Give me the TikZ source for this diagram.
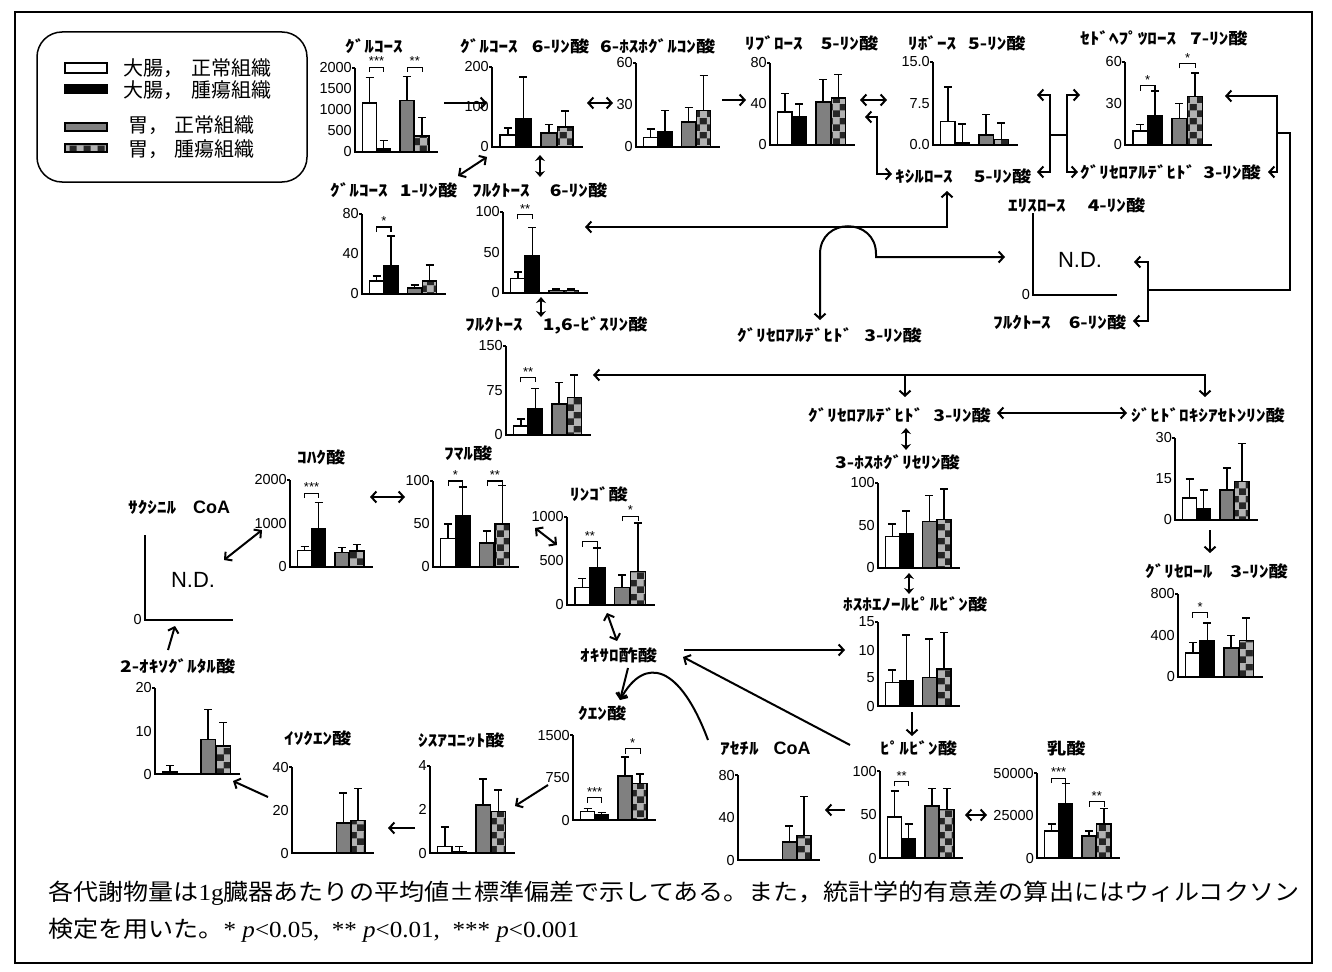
\documentclass[tikz,border=0pt]{standalone}
\usepackage{fontspec}
\setmainfont{Liberation Sans}
\newfontfamily\jpl[FakeStretch=1.2]{Noto Sans CJK JP}
\newfontfamily\jpr{Noto Sans CJK JP}
\newfontfamily\jpc[FakeStretch=1.09]{Noto Sans CJK JP}
\newfontfamily\lsans{Liberation Sans}
\newfontfamily\lserif[FakeStretch=1.09]{Liberation Serif}
\usetikzlibrary{arrows.meta,patterns}

\pgfdeclarepatterninherentlycolored{chk}
{\pgfpointorigin}{\pgfqpoint{14pt}{14pt}}
{\pgfqpoint{14pt}{14pt}}
{%
  \pgfsetfillcolor{black!85}%
  \pgfpathrectangle{\pgfpointorigin}{\pgfqpoint{14pt}{14pt}}%
  \pgfusepath{fill}%
  \pgfsetfillcolor{gray!60}%
  \pgfpathrectangle{\pgfpointorigin}{\pgfqpoint{7pt}{7pt}}%
  \pgfpathrectangle{\pgfqpoint{7pt}{7pt}}{\pgfqpoint{7pt}{7pt}}%
  \pgfusepath{fill}%
}

\newcommand\gp[1]{\hspace{#1pt}}
\newcommand\coa{{\lsans\bfseries\fontsize{18}{18}\selectfont CoA}}

\tikzset{
  axis/.style={line width=1.6pt},
  barline/.style={line width=1.4pt},
  err/.style={line width=1.4pt},
  sigl/.style={line width=1.1pt},
  tick/.style={font=\lsans\fontsize{14.5}{15}\selectfont, inner sep=1pt},
  stars/.style={font=\lsans\fontsize{13}{13}\selectfont, inner sep=0pt, anchor=south},
  ttl/.style={font=\jpl\bfseries\fontsize{16}{18}\selectfont, inner sep=0pt, anchor=west},
  legt/.style={font=\jpr\fontsize{20}{22}\selectfont, inner sep=0pt, anchor=west},
  nd/.style={font=\lsans\fontsize{22}{22}\selectfont, inner sep=0pt},
  conn/.style={line width=2pt},
  dbl/.style={line width=2.4pt, {Stealth[length=6pt,width=10pt]}-{Stealth[length=6pt,width=10pt]}},
  capt/.style={font=\jpc\fontsize{23}{26}\selectfont, inner sep=0pt, anchor=west}
}

% bar chart: x0, base, H, L, ymax, list v/e
\newcommand\bc[6]{%
\begin{scope}[shift={(#1,#2)}]
\pgfmathsetmacro\bcscl{#3/#5}%
\pgfmathsetmacro\bcbw{0.17*#4}%
\foreach \bvv/\bee [count=\bci] in {#6}{%
  \pgfmathsetmacro\bcxs{#4*{0.09,0.26,0.54,0.72}[\bci-1]}%
  \pgfmathsetmacro\bcxe{\bcxs+\bcbw}%
  \pgfmathsetmacro\bcxc{\bcxs+\bcbw/2}%
  \pgfmathsetmacro\bchv{\bvv*\bcscl}%
  \pgfmathsetmacro\bche{(\bvv+\bee)*\bcscl}%
  \ifcase\bci\or\def\bcfc{white}\or\def\bcfc{black}\or\def\bcfc{black!50}\or\def\bcfc{white}\fi
  \ifnum\bci=4
    \draw[barline,pattern=chk] (\bcxs,0) rectangle (\bcxe,-\bchv);
  \else
    \draw[barline,fill=\bcfc] (\bcxs,0) rectangle (\bcxe,-\bchv);
  \fi
  \ifdim\bee pt>0pt
    \draw[err] (\bcxc,-\bchv) -- (\bcxc,-\bche) ({\bcxc-4},-\bche) -- ({\bcxc+4},-\bche);
  \fi
}
\draw[axis] (0,-#3) -- (0,0) -- (#4,0);
\draw[axis] (-3,-#3) -- (0,-#3);
\end{scope}}

% ticks: x0, base, H, ymax, list val/label
\newcommand\tk[5]{%
\foreach \tkv/\tkl in {#5}{\node[tick,anchor=east] at ({#1-2},{#2-\tkv/#4*#3}) {\tkl};}}

% significance: x0, base, H, L, ymax, group, value, stars
\newcommand\sig[8]{%
\pgfmathsetmacro\sgA{#1+#4*(#6==1?0.175:0.63)}%
\pgfmathsetmacro\sgB{#1+#4*(#6==1?0.345:0.81)}%
\pgfmathsetmacro\sgY{#2-#7/#5*#3}%
\pgfmathsetmacro\sgM{(\sgA+\sgB)/2}%
\draw[sigl] (\sgA,{\sgY+5}) -- (\sgA,\sgY) -- (\sgB,\sgY) -- (\sgB,{\sgY+5});
\node[stars] at (\sgM,{\sgY-1}) {#8};}

\begin{document}
\begin{tikzpicture}[x=1pt,y=-1pt,>={Straight Barb[length=5pt,width=11pt]}]
\useasboundingbox (0,0) rectangle (1332,971);
\fill[white] (0,0) rectangle (1332,971);
\draw[line width=1.5pt] (15,12) rectangle (1312,963);

% ---------- legend ----------
\draw[line width=1.5pt, rounded corners=25pt] (37,32) rectangle (307,182);
\draw[barline, fill=white] (65,63) rectangle (107,73);
\draw[barline, fill=black] (65,85) rectangle (107,93);
\draw[barline, fill=black!50] (65,123) rectangle (107,131);
\draw[barline, pattern=chk] (65,144) rectangle (107,152);
\node[legt] (lg1) at (123,68) {大腸，\hspace{8pt}正常組織};
\node[legt] (lg2) at (123,90) {大腸，\hspace{8pt}腫瘍組織};
\node[legt] (lg3) at (128,125) {胃，\hspace{6pt}正常組織};
\node[legt] (lg4) at (128,149) {胃，\hspace{6pt}腫瘍組織};

% ---------- charts ----------
% glucose
\node[ttl] (tGlc) at (345,46) {ｸﾞﾙｺｰｽ};
\bc{355}{152}{84}{83}{2000}{1170/600,80/190,1230/570,380/440}
\tk{355}{152}{84}{2000}{0/0,500/500,1000/1000,1500/1500,2000/2000}
\sig{355}{152}{84}{83}{2000}{1}{2020}{***}
\sig{355}{152}{84}{83}{2000}{2}{2020}{**}
% G6P
\node[ttl] (tG6P) at (460,46) {ｸﾞﾙｺｰｽ\gp{14}6-ﾘﾝ酸};
\bc{492}{147}{80}{91}{200}{30/18,70/105,35/22,50/40}
\tk{492}{147}{80}{200}{0/0,100/100,200/200}
% 6PG
\node[ttl] (t6PG) at (600,46) {6-ﾎｽﾎｸﾞﾙｺﾝ酸};
\bc{636}{147}{84}{84}{60}{7/6,11/15,18/10,26/25}
\tk{636}{147}{84}{60}{0/0,30/30,60/60}
% Ru5P
\node[ttl] (tRu5P) at (745,43) {ﾘﾌﾞﾛｰｽ\gp{18}5-ﾘﾝ酸};
\bc{770}{145}{82}{85}{80}{32/18,28/12,42/22,46/23}
\tk{770}{145}{82}{80}{0/0,40/40,80/80}
% R5P
\node[ttl] (tR5P) at (908,43) {ﾘﾎﾞｰｽ\gp{12}5-ﾘﾝ酸};
\bc{933}{145}{83}{85}{15}{4.3/6.2,0.5/3.3,1.8/3.7,1.0/3.0}
\tk{933}{145}{83}{15}{0/0.0,7.5/7.5,15/15.0}
% S7P
\node[ttl] (tS7P) at (1080,38) {ｾﾄﾞﾍﾌﾟﾂﾛｰｽ\gp{14}7-ﾘﾝ酸};
\bc{1125}{145}{83}{87}{60}{10/5,21/18,19/11,35/17}
\tk{1125}{145}{83}{60}{0/0,30/30,60/60}
\sig{1125}{145}{83}{87}{60}{1}{43}{*}
\sig{1125}{145}{83}{87}{60}{2}{59}{*}
% G1P
\node[ttl] (tG1P) at (330,190) {ｸﾞﾙｺｰｽ\gp{12}1-ﾘﾝ酸};
\bc{362}{294}{80}{84}{80}{13/5,28/30,6/3,13/16}
\tk{362}{294}{80}{80}{0/0,40/40,80/80}
\sig{362}{294}{80}{84}{80}{1}{67}{*}
% F6P
\node[ttl] (tF6P) at (472,190) {ﾌﾙｸﾄｰｽ\gp{20}6-ﾘﾝ酸};
\bc{503}{293}{81}{85}{100}{18/8,46/35,3/2,3/2}
\tk{503}{293}{81}{100}{0/0,50/50,100/100}
\sig{503}{293}{81}{85}{100}{1}{97}{**}
% F1,6BP
\node[ttl] (tFBP) at (465,325) {ﾌﾙｸﾄｰｽ\gp{20}1,6-ﾋﾞｽﾘﾝ酸};
\bc{506}{435}{89}{85}{150}{15/12,45/33,52/36,63/38}
\tk{506}{435}{89}{150}{0/0,75/75,150/150}
\sig{506}{435}{89}{85}{150}{1}{97}{**}
% pentose labels
\node[ttl] (tXu5P) at (895,176) {ｷｼﾙﾛｰｽ\gp{21}5-ﾘﾝ酸};
\node[ttl] (tGAPr) at (1080,172) {ｸﾞﾘｾﾛｱﾙﾃﾞﾋﾄﾞ\gp{8}3-ﾘﾝ酸};
\node[ttl] (tE4P) at (1008,205) {ｴﾘｽﾛｰｽ\gp{22}4-ﾘﾝ酸};
\node[ttl] (tF6Pr) at (993,322) {ﾌﾙｸﾄｰｽ\gp{18}6-ﾘﾝ酸};
\node[ttl] (tGAPm) at (737,335) {ｸﾞﾘｾﾛｱﾙﾃﾞﾋﾄﾞ\gp{12}3-ﾘﾝ酸};
% E4P empty chart
\draw[axis] (1033,213) -- (1033,295) -- (1117,295);
\node[tick,anchor=east] (zE4P) at (1031,295) {0};
\node[nd] (ndE4P) at (1080,260) {N.D.};
% GA3P / DHAP / G3P
\node[ttl] (tGAP) at (808,415) {ｸﾞﾘｾﾛｱﾙﾃﾞﾋﾄﾞ\gp{10}3-ﾘﾝ酸};
\node[ttl] (tDHAP) at (1131,415) {ｼﾞﾋﾄﾞﾛｷｼｱｾﾄﾝﾘﾝ酸};
\bc{1175}{520}{82}{83}{30}{8/7,4/7,11/8,14/14}
\tk{1175}{520}{82}{30}{0/0,15/15,30/30}
\node[ttl] (tG3P) at (1145,571) {ｸﾞﾘｾﾛｰﾙ\gp{18}3-ﾘﾝ酸};
\bc{1178}{677}{83}{85}{800}{230/100,350/170,280/120,350/220}
\tk{1178}{677}{83}{800}{0/0,400/400,800/800}
\sig{1178}{677}{83}{85}{800}{1}{620}{*}
% 3PG
\node[ttl] (t3PG) at (835,462) {3-ﾎｽﾎｸﾞﾘｾﾘﾝ酸};
\bc{878}{568}{85}{82}{100}{37/15,40/27,55/30,57/36}
\tk{878}{568}{85}{100}{0/0,50/50,100/100}
% PEP
\node[ttl] (tPEP) at (843,604) {ﾎｽﾎｴﾉｰﾙﾋﾟﾙﾋﾞﾝ酸};
\bc{878}{706}{84}{82}{15}{4.2/2.2,4.5/8.2,5.1/6.9,6.6/6.5}
\tk{878}{706}{84}{15}{0/0,5/5,10/10,15/15}
% pyruvate
\node[ttl] (tPyr) at (880,748) {ﾋﾟﾙﾋﾞﾝ酸};
\bc{880}{858}{87}{83}{100}{47/30,22/17,60/20,56/24}
\tk{880}{858}{87}{100}{0/0,50/50,100/100}
\sig{880}{858}{87}{83}{100}{1}{88}{**}
% lactate (values in thousands)
\node[ttl] (tLac) at (1047,748) {乳酸};
\bc{1037}{858}{85}{83}{50}{16/4,32/12,13/3,20/9}
\tk{1037}{858}{85}{50}{0/0,25/25000,50/50000}
\sig{1037}{858}{85}{83}{50}{1}{47}{***}
\sig{1037}{858}{85}{83}{50}{2}{33}{**}
% acetyl CoA
\node[ttl] (tAcCoA) at (720,749) {ｱｾﾁﾙ\gp{15}\coa};
\bc{738}{860}{85}{82}{80}{0.5/0,0.5/0,17/15,23/37}
\tk{738}{860}{85}{80}{0/0,40/40,80/80}
% citrate
\node[ttl] (tCit) at (578,713) {ｸｴﾝ酸};
\bc{573}{820}{85}{83}{1500}{150/50,100/30,780/330,640/170}
\tk{573}{820}{85}{1500}{0/0,750/750,1500/1500}
\sig{573}{820}{85}{83}{1500}{1}{390}{***}
\sig{573}{820}{85}{83}{1500}{2}{1260}{*}
% oxaloacetate
\node[ttl] (tOAA) at (580,655) {ｵｷｻﾛ酢酸};
% malate
\node[ttl] (tMal) at (570,494) {ﾘﾝｺﾞ酸};
\bc{567}{605}{88}{88}{1000}{200/100,420/230,200/140,380/550}
\tk{567}{605}{88}{1000}{0/0,500/500,1000/1000}
\sig{567}{605}{88}{88}{1000}{1}{720}{**}
\sig{567}{605}{88}{88}{1000}{2}{1010}{*}
% fumarate
\node[ttl] (tFum) at (444,453) {ﾌﾏﾙ酸};
\bc{433}{567}{86}{86}{100}{33/17,60/33,28/14,50/45}
\tk{433}{567}{86}{100}{0/0,50/50,100/100}
\sig{433}{567}{86}{86}{100}{1}{100}{*}
\sig{433}{567}{86}{86}{100}{2}{100}{**}
% succinate
\node[ttl] (tSuc) at (297,457) {ｺﾊｸ酸};
\bc{290}{567}{87}{83}{2000}{380/90,880/600,330/120,370/150}
\tk{290}{567}{87}{2000}{0/0,1000/1000,2000/2000}
\sig{290}{567}{87}{83}{2000}{1}{1700}{***}
% succinyl CoA
\node[ttl] (tSucCoA) at (128,507) {ｻｸｼﾆﾙ\gp{17}\coa};
\draw[axis] (145,535) -- (145,620) -- (233,620);
\node[tick,anchor=east] (zSucCoA) at (143,620) {0};
\node[nd] (ndSucCoA) at (193,580) {N.D.};
% 2-oxoglutarate
\node[ttl] (tOG) at (120,666) {2-ｵｷｿｸﾞﾙﾀﾙ酸};
\bc{155}{774}{86}{85}{20}{0.5/1.5,0/0,8/7,6.5/5.5}
\tk{155}{774}{86}{20}{0/0,10/10,20/20}
% isocitrate
\node[ttl] (tIso) at (284,738) {ｲｿｸｴﾝ酸};
\bc{292}{853}{86}{82}{40}{0/0,0/0,14/14,15/15}
\tk{292}{853}{86}{40}{0/0,20/20,40/40}
% cis-aconitate
\node[ttl] (tAco) at (418,740) {ｼｽｱｺﾆｯﾄ酸};
\bc{430}{853}{87}{85}{4}{0.3/0.9,0.05/0.25,2.2/1.2,1.9/1.0}
\tk{430}{853}{87}{4}{0/0,2/2,4/4}

% ---------- connector end points ----------
\coordinate (c1a) at (444,103); \coordinate (c1b) at (487,103);
\coordinate (c2a) at (587,103); \coordinate (c2b) at (613,103);
\coordinate (c3a) at (722,100); \coordinate (c3b) at (746,100);
\coordinate (c4a) at (860,100); \coordinate (c4b) at (887,100);
\coordinate (c5a) at (865,117); \coordinate (c5b) at (877,117);
\coordinate (c5c) at (877,174); \coordinate (c5d) at (892,174);
\coordinate (k1) at (1037,95);  \coordinate (k2) at (1050,95);
\coordinate (k3) at (1050,172); \coordinate (k4) at (1037,172);
\coordinate (k5) at (1080,95);  \coordinate (k6) at (1067,95);
\coordinate (k7) at (1067,172); \coordinate (k8) at (1078,172);
\coordinate (k9) at (1050,135); \coordinate (k10) at (1067,135);
\coordinate (a1) at (1225,96);  \coordinate (a2) at (1277,96);
\coordinate (a3) at (1277,172); \coordinate (a4) at (1268,172);
\coordinate (a5) at (1277,133); \coordinate (a6) at (1290,133);
\coordinate (a7) at (1290,290); \coordinate (a8) at (1148,290);
\coordinate (a9) at (1134,262); \coordinate (a10) at (1148,262);
\coordinate (a11) at (1148,321); \coordinate (a12) at (1133,321);
\coordinate (g1a) at (458,176); \coordinate (g1b) at (487,157);
\coordinate (g2a) at (540,155); \coordinate (g2b) at (540,177);
\coordinate (g3a) at (541,297); \coordinate (g3b) at (541,317);
\coordinate (x1) at (585,227);  \coordinate (x2) at (947,227);
\coordinate (x3) at (947,191);
\coordinate (h1) at (820,320);  \coordinate (h2) at (820,254);
\coordinate (h3) at (820,217);  \coordinate (h4) at (876,217);
\coordinate (h5) at (876,254);  \coordinate (h6) at (876,257);
\coordinate (h7) at (1005,257);
\coordinate (f1) at (593,375);  \coordinate (f2) at (1205,375);
\coordinate (f3) at (1205,397); \coordinate (f4) at (905,375);
\coordinate (f5) at (905,397);
\coordinate (d1) at (997,413);  \coordinate (d2) at (1127,413);
\coordinate (d3) at (906,428);  \coordinate (d4) at (906,450);
\coordinate (d5) at (1210,530); \coordinate (d6) at (1210,553);
\coordinate (d7) at (909,573);  \coordinate (d8) at (909,594);
\coordinate (d9) at (912,712);  \coordinate (d10) at (912,736);
\coordinate (o1) at (684,650);  \coordinate (o2) at (845,650);
\coordinate (o3) at (850,745);  \coordinate (o4) at (683,657);
\coordinate (o5) at (965,815);  \coordinate (o6) at (987,815);
\coordinate (o7) at (845,810);  \coordinate (o8) at (825,810);
\coordinate (o9) at (708,740);  \coordinate (o10) at (680,665);
\coordinate (o11) at (645,655); \coordinate (o12) at (620,700);
\coordinate (o13) at (628,668);
\coordinate (t1) at (607,613);  \coordinate (t2) at (617,641);
\coordinate (t3) at (535,528);  \coordinate (t4) at (557,545);
\coordinate (t5) at (370,497);  \coordinate (t6) at (405,497);
\coordinate (t7) at (262,530);  \coordinate (t8) at (224,560);
\coordinate (t9) at (168,650);  \coordinate (t10) at (175,626);
\coordinate (t11) at (268,797); \coordinate (t12) at (233,781);
\coordinate (t13) at (548,785); \coordinate (t14) at (515,806);
\coordinate (t15) at (415,828); \coordinate (t16) at (388,828);

% ---------- connectors ----------
\draw[conn,->] (c1a) -- (c1b);
\draw[conn,<->] (c2a) -- (c2b);
\draw[conn,->] (c3a) -- (c3b);
\draw[conn,<->] (c4a) -- (c4b);
\draw[conn,<->] (c5a) -- (c5b) -- (c5c) -- (c5d);
\draw[conn,<->] (k1) -- (k2) -- (k3) -- (k4);
\draw[conn,<->] (k5) -- (k6) -- (k7) -- (k8);
\draw[conn] (k9) -- (k10);
\draw[conn,<->] (a1) -- (a2) -- (a3) -- (a4);
\draw[conn] (a5) -- (a6) -- (a7) -- (a8);
\draw[conn,<->] (a9) -- (a10) -- (a11) -- (a12);
\draw[conn,<->] (g1a) -- (g1b);
\draw[dbl] (g2a) -- (g2b);
\draw[dbl] (g3a) -- (g3b);
\draw[conn,<->] (x1) -- (x2) -- (x3);
\draw[conn,<->] (h1) -- (h2) .. controls (h3) and (h4) .. (h5) -- (h6) -- (h7);
\draw[conn,<->] (f1) -- (f2) -- (f3);
\draw[conn,->] (f4) -- (f5);
\draw[conn,<->] (d1) -- (d2);
\draw[dbl] (d3) -- (d4);
\draw[conn,->] (d5) -- (d6);
\draw[dbl] (d7) -- (d8);
\draw[conn,->] (d9) -- (d10);
\draw[conn,->] (o1) -- (o2);
\draw[conn,->] (o3) -- (o4);
\draw[conn,<->] (o5) -- (o6);
\draw[conn,->] (o7) -- (o8);
\draw[conn,->] (o9) .. controls (o10) and (o11) .. (o12);
\draw[conn,->] (o13) -- (o12);
\draw[conn,<->] (t1) -- (t2);
\draw[conn,<->] (t3) -- (t4);
\draw[conn,<->] (t5) -- (t6);
\draw[conn,<->] (t7) -- (t8);
\draw[conn,->] (t9) -- (t10);
\draw[conn,->] (t11) -- (t12);
\draw[conn,->] (t13) -- (t14);
\draw[conn,->] (t15) -- (t16);

% ---------- caption ----------
\node[capt] (cap1) at (48,893) {各代謝物量は{\lserif 1g}臓器あたりの平均値±標準偏差で示してある。また，統計学的有意差の算出にはウィルコクソン};
\node[capt] (cap2) at (48,930) {検定を用いた。{\lserif * \itshape p\upshape <0.05,\ \ ** \itshape p\upshape <0.01,\ \ *** \itshape p\upshape <0.001}};
\end{tikzpicture}
\end{document}
